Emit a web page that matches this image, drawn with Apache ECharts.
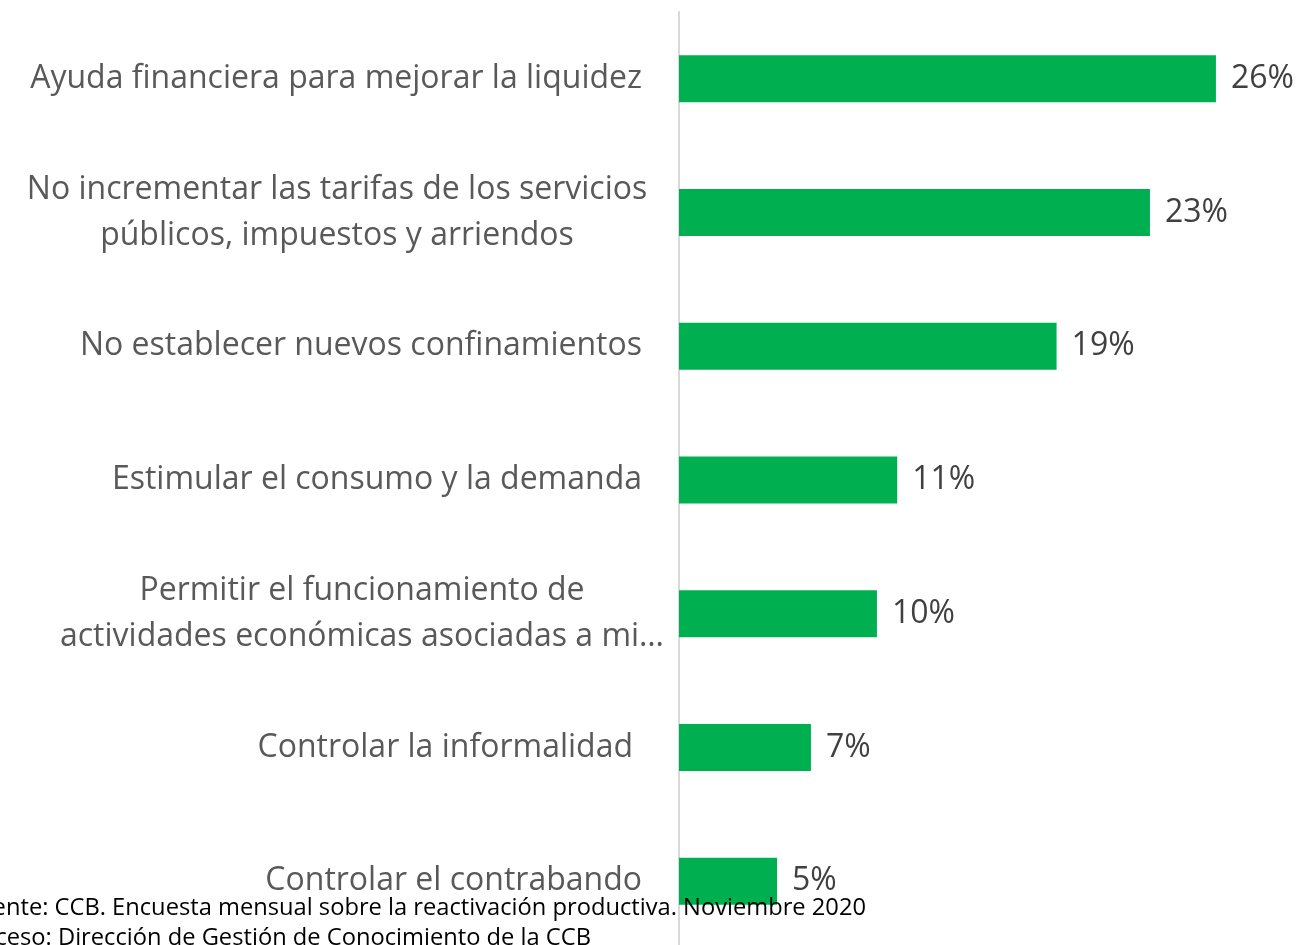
<!DOCTYPE html>
<html><head><meta charset="utf-8">
<script src="https://cdn.jsdelivr.net/npm/echarts@6/dist/echarts.min.js"></script>
<style>html,body{margin:0;padding:0;background:#fff}#c{width:1301px;height:945px}</style>
</head><body><div id="c"></div>
<script>
var categories = [
  "Ayuda financiera para mejorar la liquidez",
  "No incrementar las tarifas de los servicios\npúblicos, impuestos y arriendos",
  "No establecer nuevos confinamientos",
  "Estimular el consumo y la demanda",
  "Permitir el funcionamiento de\nactividades económicas asociadas a mi…",
  "Controlar la informalidad",
  "Controlar el contrabando"
];
var values = [26.45, 23.2, 18.6, 10.75, 9.75, 6.5, 4.83];
var sourceLines = [
  "Fuente: CCB. Encuesta mensual sobre la reactivación productiva. Noviembre 2020",
  "Proceso: Dirección de Gestión de Conocimiento de la CCB"
];

var FONT = "Open Sans";
var FS = 32;
var chart = echarts.init(document.getElementById('c'));
chart.setOption({
  animation: false,
  grid: {left: 679, top: 12, width: 609, height: 936, containLabel: false, outerBoundsMode: 'none'},
  xAxis: {type: 'value', min: 0, max: 30, show: false},
  yAxis: {
    type: 'category', inverse: true, data: categories,
    axisLine: {show: true, lineStyle: {color: '#d9d9d9', width: 2}},
    axisTick: {show: false},
    splitLine: {show: false},
    axisLabel: {
      margin: 10, fontFamily: FONT, fontSize: FS, color: '#595959',
      formatter: function (v, i) {
        if (v.indexOf('\n') >= 0) {
          var st = i === 1 ? 'a' : 'b';
          return v.split('\n').map(function (l) { return '{' + st + '|' + l + '}'; }).join('\n');
        }
        if (i === 5) return '{t|' + v + '}';
        return '{s|' + v + '}';
      },
      rich: {
        s: {fontFamily: FONT, fontSize: FS, color: '#595959', padding: [0, 27, 0, 0]},
        t: {fontFamily: FONT, fontSize: FS, color: '#595959', padding: [0, 36, 0, 0]},
        a: {fontFamily: FONT, fontSize: FS, color: '#595959', width: 664, align: 'center', lineHeight: 46},
        b: {fontFamily: FONT, fontSize: FS, color: '#595959', width: 614, align: 'center', lineHeight: 46}
      }
    }
  },
  series: [{
    type: 'bar', data: values, barWidth: 47,
    itemStyle: {color: '#00B050'},
    label: {
      show: true, position: 'right', distance: 15,
      fontFamily: FONT, fontSize: 32, color: '#404040',
      formatter: function (p) { return Math.round(p.value) + '%'; }
    }
  }],
  graphic: [
    {type: 'text', z: 100, right: 1301 - 866, top: 896, style: {text: sourceLines[0], font: '23.7px "' + FONT + '"', fill: '#000', textAlign: 'right'}},
    {type: 'text', z: 100, right: 1301 - 591, top: 926, style: {text: sourceLines[1], font: '23.7px "' + FONT + '"', fill: '#000', textAlign: 'right'}}
  ]
});
</script></body></html>
